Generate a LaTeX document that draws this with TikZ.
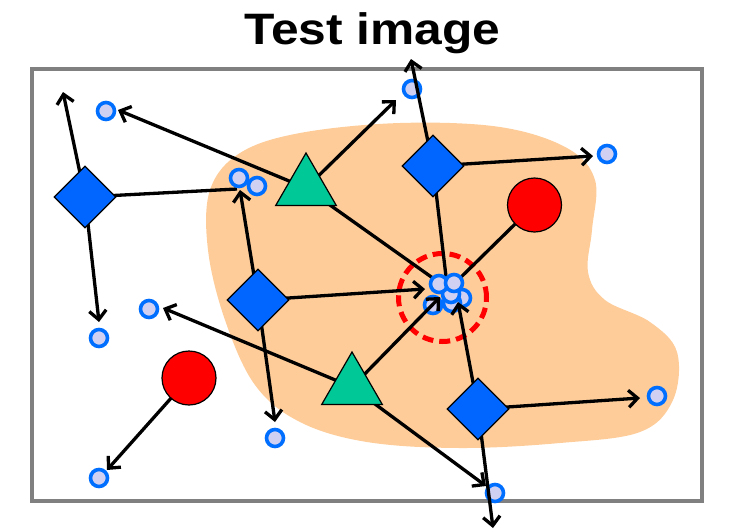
\documentclass[tikz,border=0pt]{standalone}
\usepackage{fontspec}
\setmainfont{Liberation Sans}
\usetikzlibrary{shapes.geometric,arrows.meta}
\pgfdeclarelayer{bg}
\pgfdeclarelayer{under}
\pgfdeclarelayer{circ}
\pgfdeclarelayer{lines}
\pgfsetlayers{bg,under,circ,lines,main}
\definecolor{blobc}{RGB}{253,204,153}
\definecolor{cblue}{RGB}{0,110,255}
\definecolor{clav}{RGB}{208,208,242}
\definecolor{dblue}{RGB}{0,102,255}
\definecolor{teal2}{RGB}{0,200,150}
\definecolor{framegray}{RGB}{128,128,128}
\tikzset{
  smallc/.style={circle, draw=cblue, fill=clav, line width=3.6pt, minimum size=17pt, inner sep=0pt},
  dia/.style={diamond, draw=black, fill=dblue, line width=1.2pt, minimum width=62pt, minimum height=62pt, inner sep=0pt},
  tri/.style={regular polygon, regular polygon sides=3, draw=black, fill=teal2, line width=1.2pt, minimum size=70pt, inner sep=0pt},
  redc/.style={circle, draw=black, fill=red, line width=1.2pt, minimum size=54pt, inner sep=0pt},
  conn/.style={line width=3.3pt, black},
  arr/.style={conn, -{Straight Barb[length=9pt,width=17pt]}},
}
\begin{document}
\begin{tikzpicture}[x=1pt,y=-1pt]
\useasboundingbox (0,0) rectangle (729,531);
% title
\node[anchor=base, xscale=1.13, inner sep=0pt, font=\bfseries\fontsize{44}{44}\selectfont] (title) at (372.5,44) {Test image};
\begin{pgfonlayer}{bg}
\fill[blobc] plot[smooth cycle, tension=0.6] coordinates {
 (210,190) (240,153) (300,133) (400,123) (500,127) (567,148) (595,180)
 (592,230) (588,272) (605,300) (650,322) (677,352) (673,400) (640,432)
 (560,443) (460,448) (367,442) (300,422) (255,385) (225,320) (208,250)};
\draw[framegray, line width=3.5pt] (32,69) rectangle (702,501);
\node[circle, draw=red, line width=5pt, dash pattern=on 11pt off 6pt, minimum size=88pt, inner sep=0pt] (ring) at (442.5,297.5) {};
\end{pgfonlayer}
% small circles
\begin{pgfonlayer}{circ}
\node[smallc] (c1) at (106,111) {};
\node[smallc] (c2) at (412,89) {};
\node[smallc] (c3) at (607,154) {};
\node[smallc] (c4) at (239,178) {};
\node[smallc] (c5) at (257,186) {};
\node[smallc] (c6) at (149,309) {};
\node[smallc] (c7) at (99,338) {};
\node[smallc] (c8) at (275,438) {};
\node[smallc] (c9) at (99,478) {};
\node[smallc] (c10) at (657,396) {};
\node[smallc] (c11) at (495,493) {};
\node[smallc] (k4) at (433,305) {};
\node[smallc] (k3) at (462,298) {};
\node[smallc] (k5) at (452,303) {};
\node[smallc] (k6) at (451,294) {};
\node[smallc] (k1) at (439,284) {};
\node[smallc] (k2) at (454,283) {};
\end{pgfonlayer}
% main shapes
\node[dia] (d1) at (85,197) {};
\node[dia] (d2) at (258,300) {};
\node[dia] (d3) at (433,166) {};
\node[dia] (d4) at (478,409) {};
\node[tri] (t1) at (306,188) {};
\node[tri] (t2) at (352,387) {};
\node[redc] (r1) at (534.5,205) {};
\node[redc] (r2) at (189,378) {};
% free ends
\coordinate (e1) at (63,92);
\coordinate (e2) at (99,322);
\coordinate (e3) at (237,189);
\coordinate (e4) at (118,110);
\coordinate (e5) at (396,100);
\coordinate (e6) at (437,281);
\coordinate (e7) at (411,59);
\coordinate (e8) at (593,156);
\coordinate (e9) at (447,285);
\coordinate (e10) at (456,282);
\coordinate (e11) at (240,190);
\coordinate (e12) at (425,289);
\coordinate (e13) at (275,422);
\coordinate (e14) at (163,308);
\coordinate (e15) at (440,297);
\coordinate (e16) at (486,486);
\coordinate (e17) at (458,302);
\coordinate (e18) at (640,398);
\coordinate (e19) at (493,528);
\coordinate (e20) at (107,470);
\begin{pgfonlayer}{under}
\draw[conn] (d1.center) -- (e3);
\draw[conn] (t1.center) -- (e6);
\draw[conn] (d3.center) -- (e9);
\draw[conn] (r1.center) -- (e10);
\end{pgfonlayer}
\begin{pgfonlayer}{lines}
\draw[arr] (d1.center) -- (e1);
\draw[arr] (d1.center) -- (e2);
\draw[arr] (t1.center) -- (e4);
\draw[arr] (t1.center) -- (e5);
\draw[arr] (d3.center) -- (e7);
\draw[arr] (d3.center) -- (e8);
\draw[arr] (d2.center) -- (e11);
\draw[arr] (d2.center) -- (e12);
\draw[arr] (d2.center) -- (e13);
\draw[arr] (t2.center) -- (e14);
\draw[arr] (t2.center) -- (e15);
\draw[arr] (t2.center) -- (e16);
\draw[arr] (d4.center) -- (e17);
\draw[arr] (d4.center) -- (e18);
\draw[arr] (d4.center) -- (e19);
\draw[arr] (r2.center) -- (e20);
\end{pgfonlayer}
\end{tikzpicture}
\end{document}
